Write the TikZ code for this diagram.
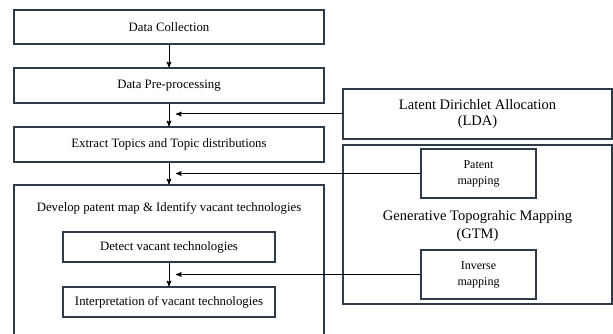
\documentclass[tikz,border=0pt]{standalone}
\usepackage{fontspec}
\setmainfont{Liberation Serif}
\usetikzlibrary{arrows}
\definecolor{boxline}{HTML}{2E3B48}

\begin{document}
\begin{tikzpicture}[x=1pt,y=-1pt,
  stepbox/.style={draw=boxline,line width=1.4pt,fill=white,inner sep=2pt,align=center,font=\fontsize{12.8}{15}\selectfont},
  sidebox/.style={stepbox,font=\fontsize{14.5}{16.5}\selectfont},
  mapbox/.style={stepbox,font=\fontsize{12}{16}\selectfont},
  flow/.style={black,line width=1pt,->,>=stealth'}]
\useasboundingbox[fill=white] (0,0) rectangle (613,334);

% main steps
\node[stepbox,minimum width=310pt,minimum height=34pt] (collect) at (169,27) {Data Collection};
\node[stepbox,minimum width=310pt,minimum height=35pt] (prep) at (169,85.5) {Data Pre-processing};
\node[stepbox,minimum width=310pt,minimum height=35pt] (extract) at (169,144.5) {Extract Topics and Topic distributions};
\node[stepbox,minimum width=310pt,minimum height=165pt] (develop) at (169,267.5) {};
\node[font=\fontsize{12.8}{15}\selectfont] (devlabel) at (169,208) {Develop patent map \& Identify vacant technologies};
\node[stepbox,minimum width=212pt,minimum height=30pt] (detect) at (169,247) {Detect vacant technologies};
\node[stepbox,minimum width=212pt,minimum height=30pt] (interp) at (169,302) {Interpretation of vacant technologies};

% methods
\node[sidebox,minimum width=269pt,minimum height=50pt] (lda) at (477.5,114) {Latent Dirichlet Allocation\\(LDA)};
\node[sidebox,minimum width=269pt,minimum height=159pt] (gtm) at (477.5,224.5) {};
\node[font=\fontsize{14.5}{17.5}\selectfont,align=center] (gtmlabel) at (477.5,226) {Generative Topograhic Mapping\\(GTM)};
\node[mapbox,minimum width=115pt,minimum height=49pt] (patent) at (478.5,173.5) {Patent\\mapping};
\node[mapbox,minimum width=115pt,minimum height=49pt] (inverse) at (478.5,274.5) {Inverse\\mapping};

\draw[flow] (collect) -- (prep);
\draw[flow] (prep) -- (extract);
\draw[flow] (extract) -- (develop);
\draw[flow] (detect) -- (interp);

\coordinate (ldaend) at ([xshift=7pt]lda.west -| prep.south);
\coordinate (patentend) at ([xshift=7pt]patent.west -| prep.south);
\coordinate (inverseend) at ([xshift=7pt]inverse.west -| prep.south);
\draw[flow] (lda.west) -- (ldaend);
\draw[flow] (patent.west) -- (patentend);
\draw[flow] (inverse.west) -- (inverseend);
\end{tikzpicture}
\end{document}
